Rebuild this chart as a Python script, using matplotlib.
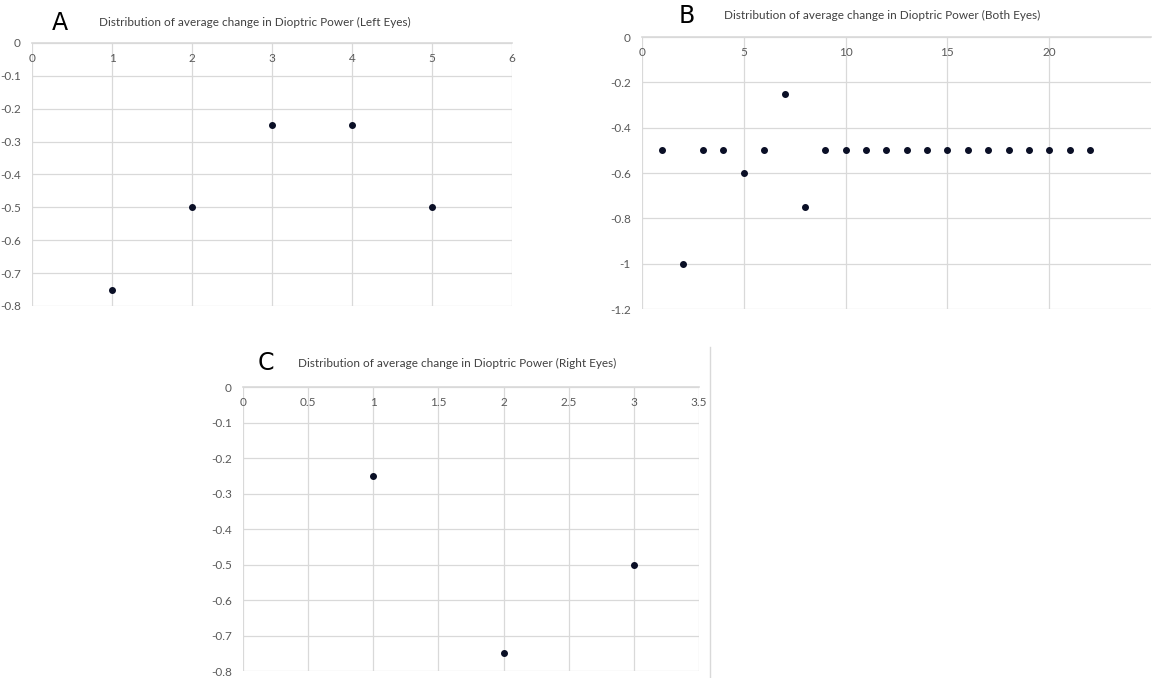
import matplotlib
matplotlib.use("Agg")
import matplotlib.pyplot as plt
from matplotlib.lines import Line2D

plt.rcParams['font.family'] = ['Lato', 'DejaVu Sans']

# Left eyes (A)
left_x = [1, 2, 3, 4, 5]
left_y = [-0.75, -0.5, -0.25, -0.25, -0.5]

# Both eyes (B)
both_x = list(range(1, 23))
both_y = [-0.5, -1.0, -0.5, -0.5, -0.6, -0.5, -0.25, -0.75,
          -0.5, -0.5, -0.5, -0.5, -0.5, -0.5, -0.5, -0.5,
          -0.5, -0.5, -0.5, -0.5, -0.5, -0.5]

# Right eyes (C)
right_x = [1, 2, 3]
right_y = [-0.25, -0.75, -0.5]

left_xticks = [0, 1, 2, 3, 4, 5, 6]
left_yticks = [0, -0.1, -0.2, -0.3, -0.4, -0.5, -0.6, -0.7, -0.8]
both_xticks = [0, 5, 10, 15, 20]
both_yticks = [0, -0.2, -0.4, -0.6, -0.8, -1.0, -1.2]
right_xticks = [0, 0.5, 1, 1.5, 2, 2.5, 3, 3.5]
right_yticks = [0, -0.1, -0.2, -0.3, -0.4, -0.5, -0.6, -0.7, -0.8]

W, H = 1156, 678
GRID = '#d9d9d9'
TXT = '#595959'


def fmt(v):
    return '%g' % v if v != 0 else '0'


def px(x, y):
    return x / W, 1 - y / H


def panel(ax, x, y, xticks, yticks, xlim, ylim):
    ax.scatter(x, y, s=16, color='#0a0f26', zorder=3, clip_on=False)
    ax.set_xlim(*xlim)
    ax.set_ylim(*ylim)
    ax.set_xticks(xticks)
    ax.set_yticks(yticks)
    ax.set_xticklabels([fmt(t) for t in xticks])
    ax.set_yticklabels([fmt(t) for t in yticks])
    ax.grid(True, color=GRID, lw=0.9)
    ax.set_axisbelow(True)
    for side in ['left', 'right', 'bottom']:
        ax.spines[side].set_visible(False)
    ax.spines['top'].set_color(GRID)
    ax.spines['top'].set_linewidth(1.2)
    ax.tick_params(axis='x', top=False, bottom=False, labeltop=True,
                   labelbottom=False, pad=-15, labelsize=8.5, labelcolor=TXT, length=0)
    ax.tick_params(axis='y', left=False, length=0, pad=8, labelsize=8.5, labelcolor=TXT)


def heading(letter, lx, ly, title, tx, ty):
    fig.text(*px(lx, ly), letter, fontsize=17, family='DejaVu Sans',
             color='black', ha='center', va='center')
    fig.text(*px(tx, ty), title, fontsize=8.5, color='#404040',
             ha='left', va='center')


fig = plt.figure(figsize=(11.56, 6.78), dpi=100)

axA = fig.add_axes([0.0277, 0.5487, 0.4152, 0.3879])
panel(axA, left_x, left_y, left_xticks, left_yticks, (0, 6), (-0.8, 0))
heading('A', 60, 23, 'Distribution of average change in Dioptric Power (Left Eyes)', 99, 22)

axB = fig.add_axes([0.5554, 0.5442, 0.4403, 0.4012])
panel(axB, both_x, both_y, both_xticks, both_yticks, (0, 25), (-1.2, 0))
heading('B', 687, 16, 'Distribution of average change in Dioptric Power (Both Eyes)', 724, 15)

axC = fig.add_axes([0.2102, 0.0103, 0.3945, 0.4189])
panel(axC, right_x, right_y, right_xticks, right_yticks, (0, 3.5), (-0.8, 0))
heading('C', 266, 363, 'Distribution of average change in Dioptric Power (Right Eyes)', 298, 363)

fig.add_artist(Line2D([710 / W, 710 / W], [0, 1 - 347 / H],
                      transform=fig.transFigure, color=GRID, lw=1))

fig.savefig('out.png', dpi=100)
